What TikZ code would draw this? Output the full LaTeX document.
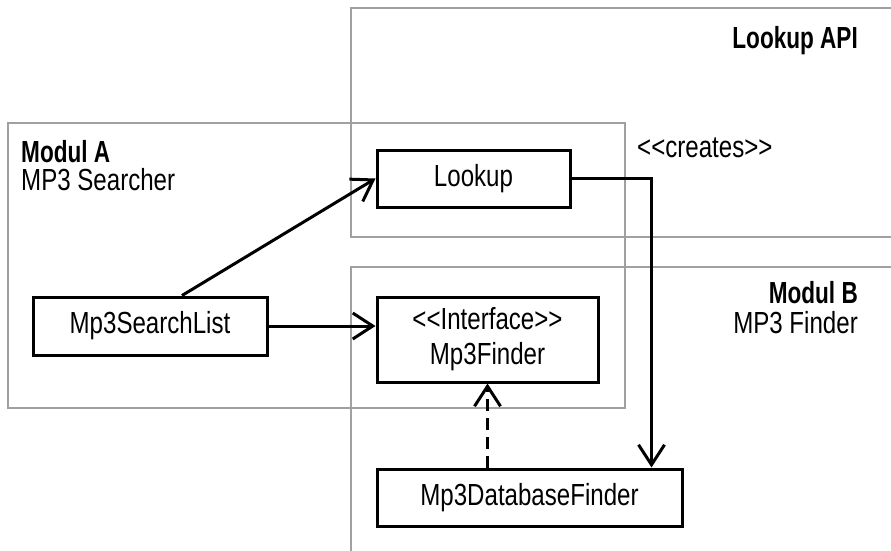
\documentclass[tikz,border=0pt]{standalone}
\usepackage{fontspec}
\setmainfont{Liberation Sans}[FakeStretch=0.79, BoldFeatures={FakeStretch=0.74}]
\usetikzlibrary{arrows.meta}
\definecolor{frame}{HTML}{A0A0A0}
\begin{document}
\begin{tikzpicture}[x=1pt,y=-1pt,
  txt/.style={font=\fontsize{30.5}{34}\selectfont, inner sep=0pt},
  btxt/.style={font=\fontsize{30.5}{34}\selectfont\bfseries, inner sep=0pt},
  cls/.style={draw=black, line width=3pt, fill=white, align=center,
    font=\fontsize{30.5}{34}\selectfont, inner sep=0pt},
  grp/.style={draw=frame, line width=2.5pt},
  arr/.style={draw=black, line width=3pt, -{Straight Barb[length=20pt,width=26pt]}}]
\useasboundingbox (0,0) rectangle (891,550);
% group frames
\draw[grp] (893,8) -- (351,8) -- (351,237) -- (893,237);
\draw[grp] (893,267) -- (351,267) -- (351,552);
\draw[grp] (8,123) rectangle (625,408);
% labels
\node[btxt, anchor=base east] (lapi) at (858,48) {Lookup API};
\node[btxt, anchor=base west] (ma) at (21,162) {Modul A};
\node[txt, anchor=base west] (mas) at (21,190) {MP3 Searcher};
\node[btxt, anchor=base east] (mb) at (858,303) {Modul B};
\node[txt, anchor=base east] (mbs) at (858,333) {MP3 Finder};
\node[txt, anchor=base west] (cr) at (637,157) {<{}<creates>{}>};
% classes
\node[cls, minimum width=193pt, minimum height=57pt] (lk) at (473.5,178.5) {Lookup};
\node[cls, minimum width=234pt, minimum height=58pt] (sl) at (150,326) {Mp3SearchList};
\node[cls, minimum width=221pt, minimum height=85pt] (mf) at (487.5,339.5) {<{}<Interface>{}>\\[1pt]Mp3Finder};
\node[cls, minimum width=305pt, minimum height=57pt] (db) at (529.5,497.5) {Mp3DatabaseFinder};
% connectors
\draw[arr] ([xshift=32pt]sl.north) -- (lk.west);
\draw[arr] (sl.east) -- (sl.east -| mf.west);
\draw[arr] (lk.east) -| ([xshift=-32pt]db.north east);
\draw[arr, dash pattern=on 12pt off 7pt] (mf.south |- db.north) -- (mf.south);
\end{tikzpicture}
\end{document}
